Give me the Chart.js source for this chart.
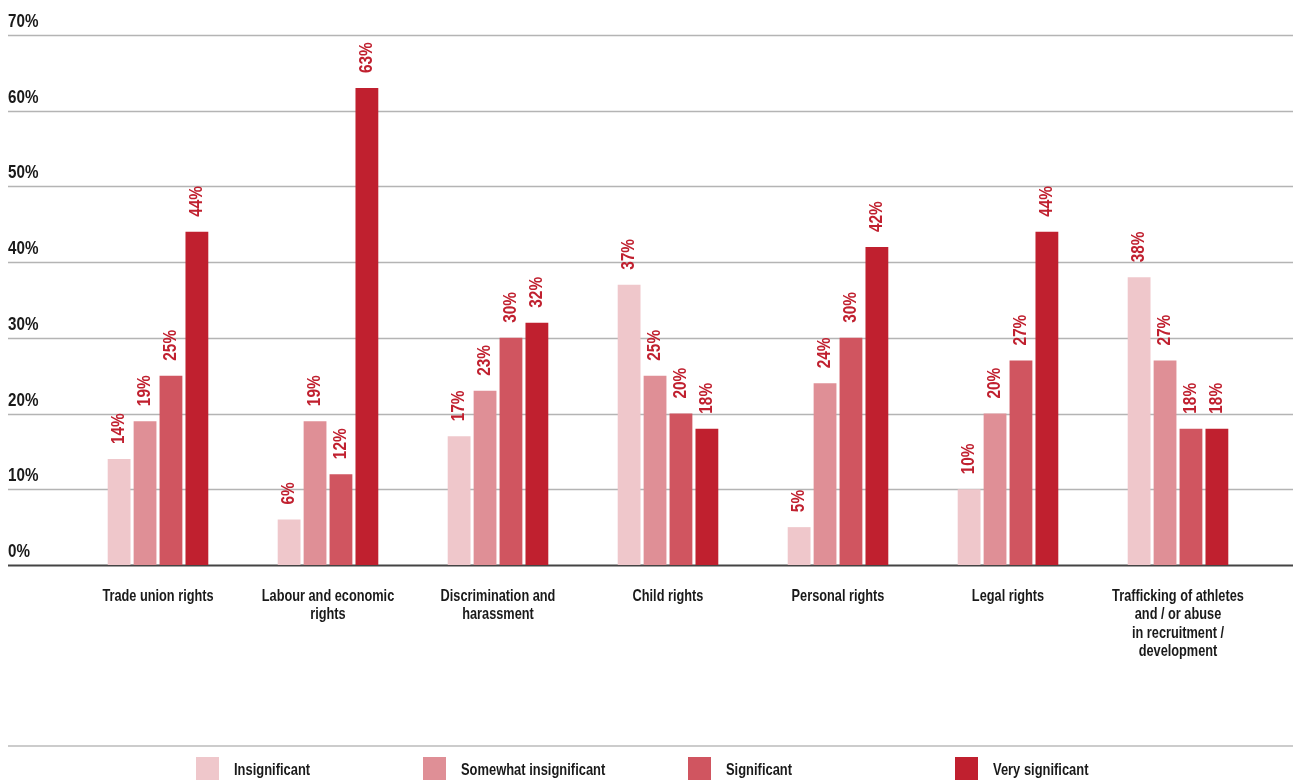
<!DOCTYPE html>
<html>
<head>
<meta charset="utf-8">
<title>Human rights issues by significance</title>
<script src="https://cdn.jsdelivr.net/npm/chart.js@4/dist/chart.umd.min.js"></script>
<style>
    html, body { margin: 0; padding: 0; background: #fff; }
    #wrap { position: relative; width: 1293px; height: 783px; }
</style>
</head>
<body>
<div id="wrap"><canvas id="issuesChart"></canvas></div>
<script>
// Survey answers: share of respondents per rating, by type of right
const categories = [
    'Trade union rights',
    ['Labour and economic', 'rights'],
    ['Discrimination and', 'harassment'],
    'Child rights',
    'Personal rights',
    'Legal rights',
    ['Trafficking of athletes', 'and / or abuse', 'in recruitment /', 'development']
];
const seriesNames = ['Insignificant', 'Somewhat insignificant', 'Significant', 'Very significant'];
const insignificant = [14, 6, 17, 37, 5, 10, 38];
const somewhatInsignificant = [19, 19, 23, 25, 24, 20, 27];
const significant = [25, 12, 30, 20, 30, 27, 18];
const verySignificant = [44, 63, 32, 18, 42, 44, 18];
const yTicks = [0, 10, 20, 30, 40, 50, 60, 70];

const seriesColors = ['#efc7cb', '#df8f96', '#d05560', '#c0202f'];
const FONT = '"Liberation Sans", Arial, sans-serif';
const TEXT = '#1a1a1a';

// Legend item left edges (box), laid out on the bottom band
const legendX = [196, 423, 688, 955];

// No narrow face is installed, so squeeze a bold sans horizontally
function condensedText(ctx, text, x, y, squeeze, angle) {
    ctx.save();
    ctx.translate(x, y);
    if (angle) ctx.rotate(angle);
    ctx.scale(squeeze, 1);
    ctx.fillText(text, 0, 0);
    ctx.restore();
}

// Horizontal grid across the whole width, with a dark zero line
const gridPlugin = {
    id: 'fullGrid',
    beforeDatasetsDraw: function(chart) {
        const ctx = chart.ctx;
        const y = chart.scales.y;
        ctx.save();
        yTicks.forEach(function(v) {
            const py = Math.round(y.getPixelForValue(v)) + 0.5;
            ctx.beginPath();
            ctx.strokeStyle = v === 0 ? '#444' : '#b4b4b4';
            ctx.lineWidth = v === 0 ? 2 : 1.5;
            ctx.moveTo(8, py);
            ctx.lineTo(chart.width, py);
            ctx.stroke();
        });
        ctx.restore();
    },
    afterDraw: function(chart) {
        const ctx = chart.ctx;
        const y = chart.scales.y;
        const x = chart.scales.x;
        ctx.save();
        ctx.fillStyle = TEXT;
        ctx.textBaseline = 'alphabetic';

        // y tick labels sit just above their grid line
        ctx.font = 'bold 19px ' + FONT;
        ctx.textAlign = 'left';
        yTicks.forEach(function(v) {
            condensedText(ctx, v + '%', 8, y.getPixelForValue(v) - 8, 0.8);
        });

        // category names, one or more centred lines under each group
        ctx.font = 'bold 17px ' + FONT;
        ctx.textAlign = 'center';
        chart.data.labels.forEach(function(label, i) {
            const lines = Array.isArray(label) ? label : [label];
            const cx = x.getPixelForValue(i);
            lines.forEach(function(line, k) {
                condensedText(ctx, line, cx, 601 + k * 18.3, 0.75);
            });
        });
        ctx.restore();
    }
};

// Rotated value labels above each bar
const valueLabelPlugin = {
    id: 'valueLabels',
    afterDatasetsDraw: function(chart) {
        const ctx = chart.ctx;
        ctx.save();
        ctx.font = 'bold 19px ' + FONT;
        ctx.fillStyle = '#c0202f';
        ctx.textAlign = 'left';
        ctx.textBaseline = 'middle';
        chart.data.datasets.forEach(function(ds, i) {
            const meta = chart.getDatasetMeta(i);
            meta.data.forEach(function(bar, j) {
                condensedText(ctx, ds.data[j] + '%', bar.x, bar.y - 15, 0.81, -Math.PI / 2);
            });
        });
        ctx.restore();
    }
};

// Legend row under a thin separator
const legendPlugin = {
    id: 'bottomLegend',
    afterDraw: function(chart) {
        const ctx = chart.ctx;
        ctx.save();
        ctx.strokeStyle = '#cccccc';
        ctx.lineWidth = 2;
        ctx.beginPath();
        ctx.moveTo(8, 746);
        ctx.lineTo(chart.width, 746);
        ctx.stroke();

        ctx.font = 'bold 17px ' + FONT;
        ctx.textAlign = 'left';
        ctx.textBaseline = 'alphabetic';
        chart.data.datasets.forEach(function(ds, i) {
            const x = legendX[i];
            ctx.fillStyle = ds.backgroundColor;
            ctx.fillRect(x, 757, 23, 23);
            ctx.fillStyle = TEXT;
            condensedText(ctx, ds.label, x + 38, 775, 0.76);
        });
        ctx.restore();
    }
};

function buildDatasets() {
    const values = [insignificant, somewhatInsignificant, significant, verySignificant];
    return values.map(function(data, i) {
        return {
            label: seriesNames[i],
            data: data,
            backgroundColor: seriesColors[i],
            borderWidth: 0,
            categoryPercentage: 0.61,
            barPercentage: 0.88
        };
    });
}

document.addEventListener('DOMContentLoaded', function() {
    const ctx = document.getElementById('issuesChart').getContext('2d');
    new Chart(ctx, {
        type: 'bar',
        data: {
            labels: categories,
            datasets: buildDatasets()
        },
        options: {
            responsive: true,
            maintainAspectRatio: false,
            animation: false,
            layout: { padding: { left: 73, right: 30, top: 35, bottom: 0 } },
            plugins: {
                legend: { display: false },
                tooltip: { enabled: false }
            },
            scales: {
                x: {
                    grid: { display: false, drawTicks: false },
                    border: { display: false },
                    ticks: { display: false },
                    afterFit: function(scale) { scale.height = 218; }
                },
                y: {
                    min: 0,
                    max: 70,
                    ticks: { display: false, stepSize: 10 },
                    grid: { display: false, drawTicks: false },
                    border: { display: false },
                    afterFit: function(scale) { scale.width = 0; }
                }
            }
        },
        plugins: [gridPlugin, valueLabelPlugin, legendPlugin]
    });
});
</script>
</body>
</html>
